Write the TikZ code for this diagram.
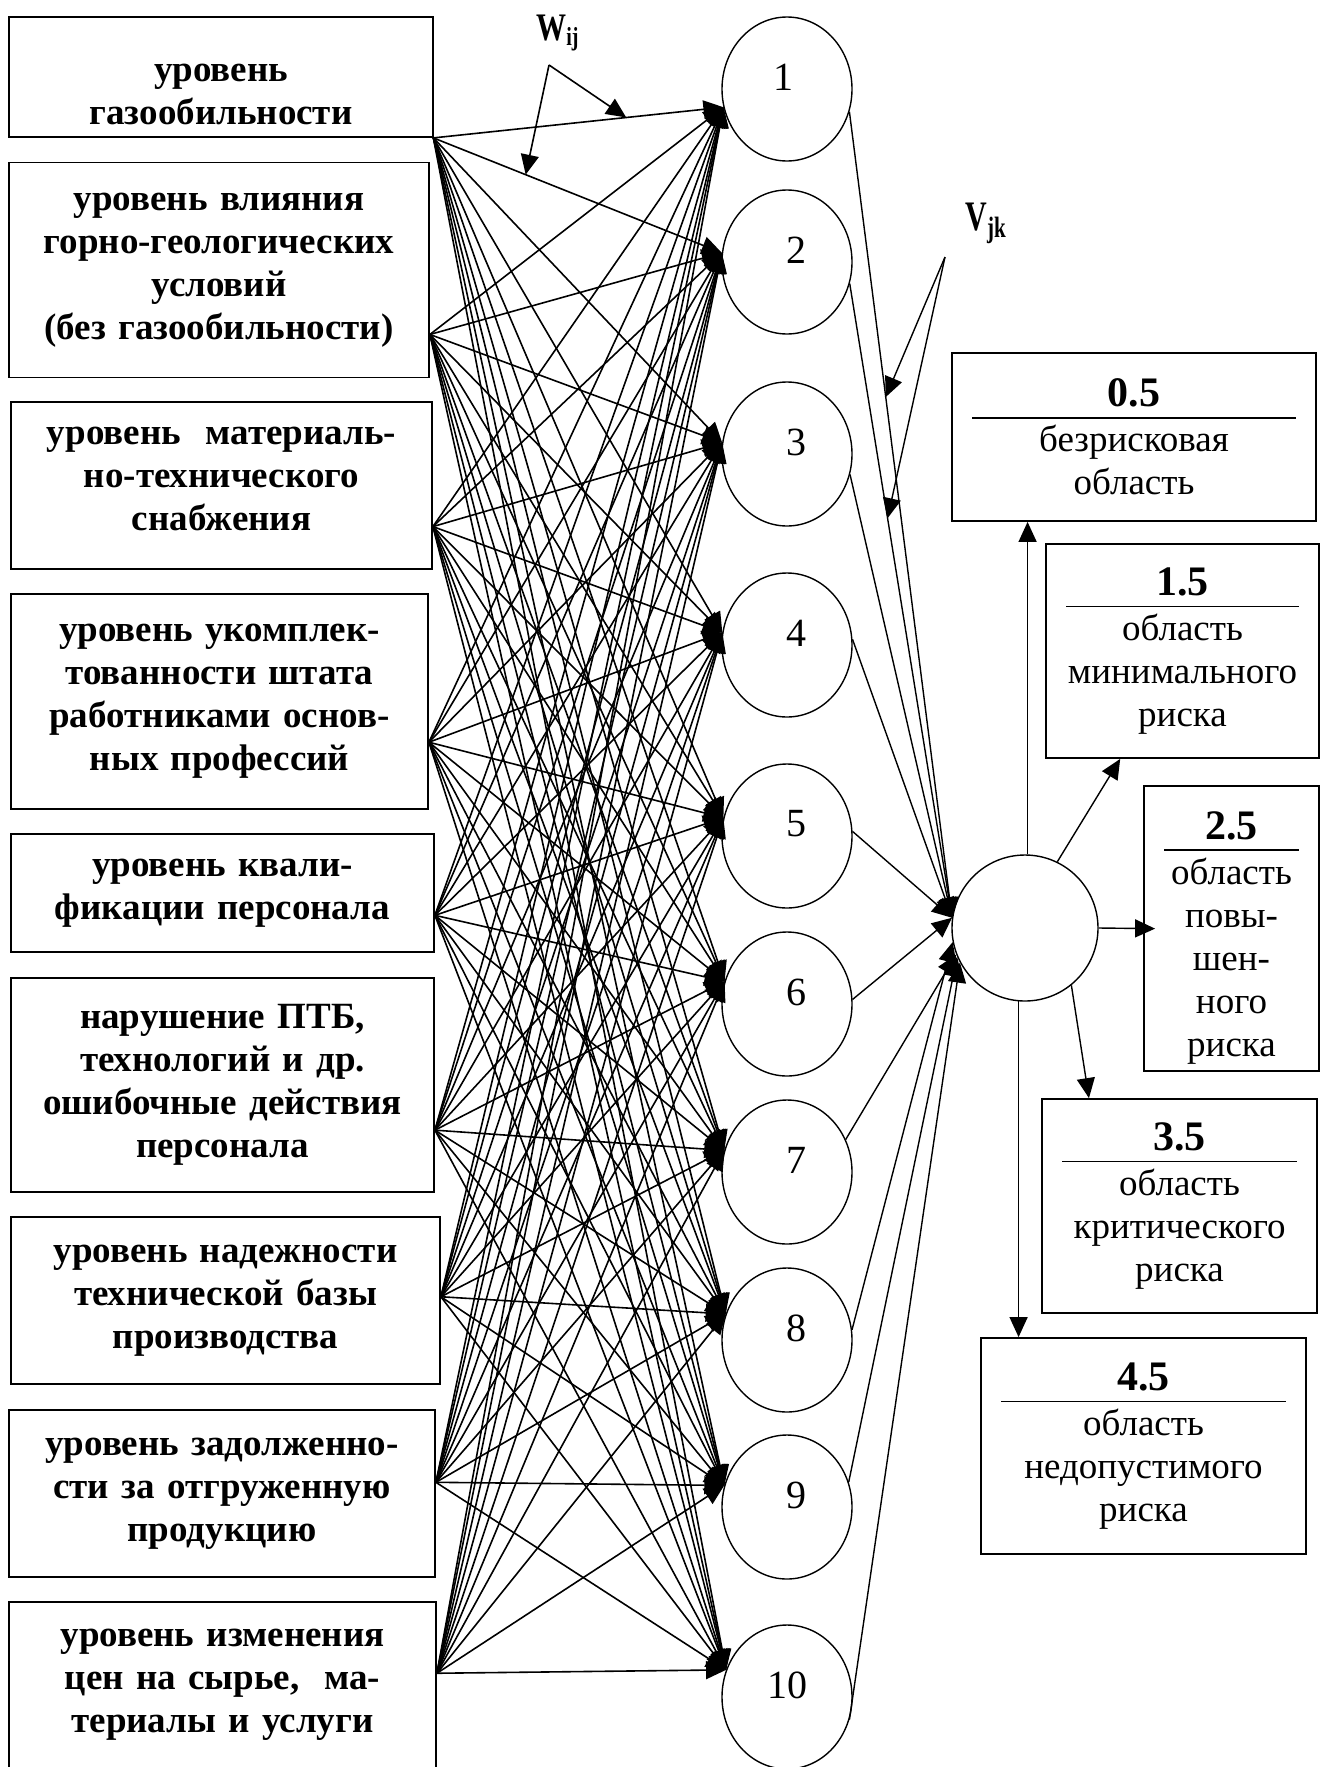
\documentclass[tikz,border=0pt]{standalone}
\usepackage{fontspec}
\usepackage{graphicx}
\setmainfont{Liberation Serif}
\usetikzlibrary{shapes.geometric,arrows.meta}

\newcommand\infont{\bfseries\fontsize{18.5}{21.5}\selectfont}
\newcommand\zonefont{\fontsize{18.5}{21.5}\selectfont}
\newcommand\zonenum{\bfseries\fontsize{21}{21.5}\selectfont}
\newcommand\hidfont{\fontsize{20}{22}\selectfont}
% number, rule, then the zone text
\newcommand\zone[2]{{\zonenum #1}\\[-10pt]\rule[5.55pt]{\dimexpr\linewidth-8pt\relax}{0.9pt}\\[-10.5pt]#2}

\tikzset{
  inbox/.style={draw, line width=0.9pt, font=\infont, align=center, text width=200pt, inner sep=0pt},
  zonebox/.style={draw, line width=0.9pt, font=\zonefont, align=center, inner xsep=6pt, inner ysep=0pt},
  neuron/.style={ellipse, draw, line width=0.7pt, minimum width=65pt, minimum height=72pt, inner sep=0pt},
  wline/.style={line width=0.8pt, -{Triangle[length=10pt,width=9pt]}},
  vline/.style={line width=0.7pt, -{Triangle[length=10pt,width=9pt]}}
}

\begin{document}
\begin{tikzpicture}[x=0.5pt, y=0.5pt]
\clip[use as bounding box] (0,0) rectangle (1321,-1767);

% input factors
\node[inbox, minimum width=212pt, minimum height=60pt] (in1) at (221,-77) {\rule{0pt}{26pt}уровень\\газообильности};
\node[inbox, minimum width=210pt, minimum height=107.5pt] (in2) at (219,-270) {уровень влияния\\горно-геологических\\условий\\(без газообильности)};
\node[inbox, minimum width=210.5pt, minimum height=83.5pt] (in3) at (221.5,-485.5) {уровень\ \ материаль-\\но-технического\\снабжения\rule[-7pt]{0pt}{7pt}};
\node[inbox, minimum width=208.5pt, minimum height=107.5pt] (in4) at (219.5,-701.5) {уровень укомплек-\\тованности штата\\работниками основ-\\ных профессий};
\node[inbox, minimum width=211.5pt, minimum height=59pt] (in5) at (222.5,-893) {уровень квали-\\фикации персонала};
\node[inbox, minimum width=211.5pt, minimum height=107pt] (in6) at (222.5,-1085) {нарушение ПТБ,\\технологий и др.\\ошибочные действия\\персонала};
\node[inbox, minimum width=214.5pt, minimum height=83.5pt] (in7) at (225.5,-1300.5) {уровень надежности\\технической базы\\производства};
\node[inbox, minimum width=213pt, minimum height=83.5pt] (in8) at (222,-1493.5) {уровень задолженно-\\сти за отгруженную\\продукцию};
\node[inbox, minimum width=213.5pt, minimum height=90pt] (in9) at (222.5,-1692) {уровень изменения\\цен на сырье,\ \ ма-\\териалы и услуги\rule[-11pt]{0pt}{11pt}};

% hidden layer
\foreach \j/\y/\dx in {1/89/-2, 2/262/4.5, 3/454/4.5, 4/645/4.5, 5/836/4.5, 6/1004/4.5, 7/1172/4.5, 8/1340/4.5, 9/1507/4.5, 10/1697/0}
  \node[neuron, label={[font=\hidfont, xshift=\dx pt, yshift=6pt]center:\j}] (h\j) at (787,-\y) {};

% output neuron and risk zones
\node[circle, draw, line width=0.7pt, minimum size=73pt, inner sep=0pt] (out) at (1025,-928) {};
\node[zonebox, text width=170pt, minimum width=182pt, minimum height=84pt] (z05) at (1134,-437) {\zone{0.5}{безрисковая\\область}};
\node[zonebox, text width=124.5pt, minimum width=136.5pt, minimum height=107pt] (z15) at (1182.5,-651) {\zone{1.5}{область\\минимального\\риска}};
\node[zonebox, text width=75.5pt, minimum width=87.5pt, minimum height=142.5pt] (z25) at (1231.5,-928.5) {\zone{\rule{0pt}{23pt}2.5}{область\\повы-\\шен-\\ного\\риска}};
\node[zonebox, text width=125.5pt, minimum width=137.5pt, minimum height=107pt] (z35) at (1179.5,-1206) {\zone{3.5}{область\\критического\\риска}};
\node[zonebox, text width=150.5pt, minimum width=162.5pt, minimum height=108pt] (z45) at (1143.5,-1446) {\zone{4.5}{область\\недопустимого\\риска}};

% weights W_ij
\foreach \i/\a in {1/344, 2/343.3, 3/349.6, 4/349.5, 5/354.6, 6/348.8, 7/1.2, 8/3.1, 9/5.1}
  \foreach \j/\b in {1/196, 2/172, 3/170.5, 4/169.7, 5/164, 6/160, 7/161.6, 8/157.7, 9/161.6, 10/156}
    \draw[wline] (in\i.\a) -- (h\j.\b);

% weights V_jk
\foreach \j/\s/\e in {1/340/172, 2/341/172, 3/342/172, 4/5/172, 5/4/172, 6/4/172, 7/29/201, 8/9/191, 9/22/203, 10/340/208}
  \draw[vline] (h\j.\s) -- (out.\e);

% output to zones
\draw[vline] (out.88) -- (out.88 |- z05.south);
\draw[vline] (out.64) -- (z15.240.5);
\draw[vline, shorten >=-6pt] (out.east) -- (z25.west);
\draw[vline] (out.309) -- (z35.130);
\draw[vline] (out.265) -- (out.265 |- z45.north);

% labels with pointers
\node[anchor=base west, inner sep=0pt, font=\bfseries\fontsize{15}{16}\selectfont] (wlab) at (536,-40) {\scalebox{1}[1.3]{W\raisebox{-2pt}{\fontsize{10}{10}\selectfont ij}}};
\coordinate (wv) at (549,-65);
\path (in1.344) -- (h1.196) coordinate[pos=0.665] (wt1);
\path (in1.344) -- (h2.172) coordinate[pos=0.32] (wt2);
\draw[wline] (wv) -- (wt1);
\draw[wline] (wv) -- (wt2);

\node[anchor=base west, inner sep=0pt, font=\bfseries\fontsize{15}{16}\selectfont] (vlab) at (965,-230) {\scalebox{1}[1.4]{V\raisebox{-2.5pt}{\fontsize{10.5}{10.5}\selectfont jk}}};
\coordinate (vv) at (945,-257);
\path (h1.340) -- (out.172) coordinate[pos=0.354] (vt1);
\path (h2.341) -- (out.172) coordinate[pos=0.37] (vt2);
\draw[vline] (vv) -- (vt1);
\draw[vline] (vv) -- (vt2);
\end{tikzpicture}
\end{document}
